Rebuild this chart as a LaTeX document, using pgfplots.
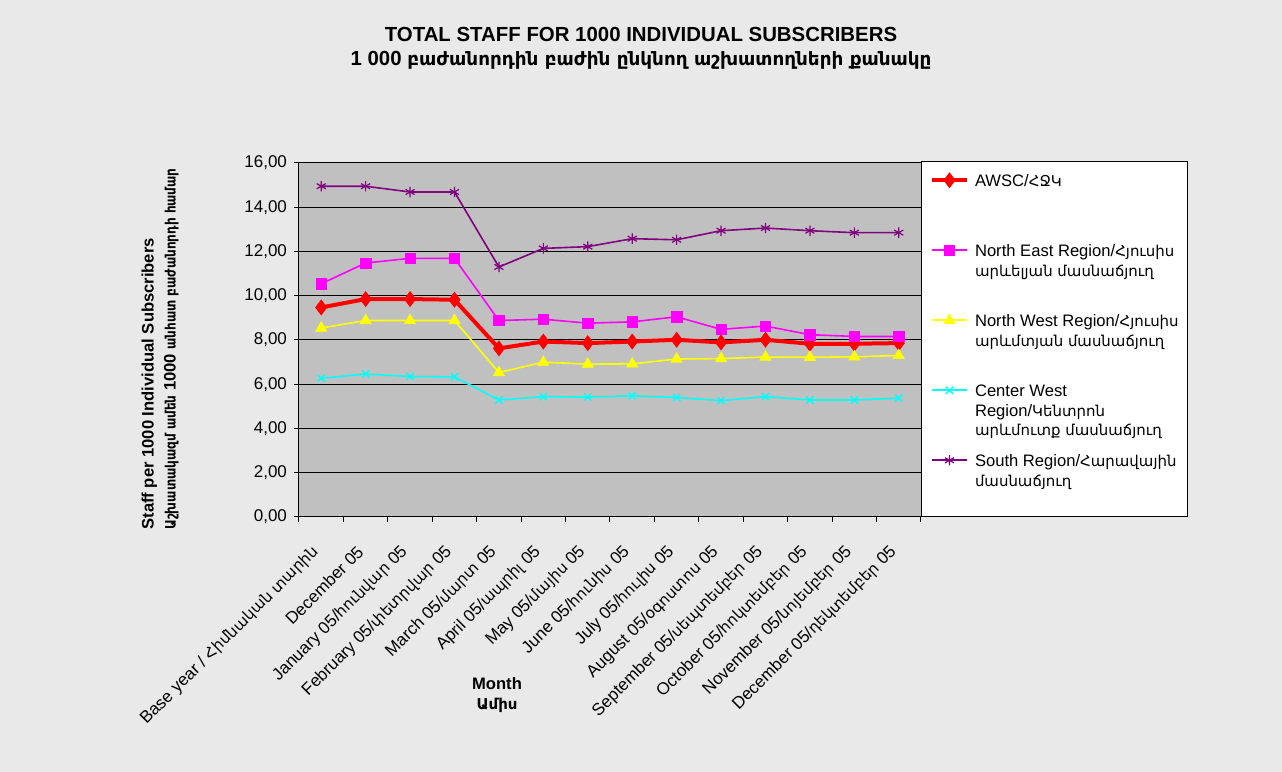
\documentclass[border=0pt]{standalone}
\usepackage{pgfplots}
\pgfplotsset{compat=1.18}
\usepackage{fontspec}
\setmainfont{Liberation Sans}
\newfontfamily\armfont{DejaVu Sans}[Scale=0.9]
\newfontfamily\armsfont{DejaVu Sans}[Scale=0.86, FakeStretch=0.84]
\newcommand\A[1]{{\armfont #1}}
\newcommand\As[1]{{\armsfont #1}}
\definecolor{bgc}{HTML}{E9E9E9}
\definecolor{plotbg}{HTML}{C0C0C0}
\definecolor{awsc}{HTML}{FF0000}
\definecolor{mag}{HTML}{FF00FF}
\definecolor{yel}{HTML}{FFFF00}
\definecolor{cya}{HTML}{00FFFF}
\definecolor{pur}{HTML}{800080}
\newcommand\LE[1]{\raisebox{-3.3pt}{\parbox[t][35pt][t]{125pt}{\raggedright\rule{0pt}{10pt}#1}}}
\begin{document}
\begin{tikzpicture}
\useasboundingbox (0,0) rectangle (641pt,386pt);
\fill[bgc] (0,0) rectangle (641pt,386pt);
% legend box
\draw[black, line width=0.5pt, fill=white] (460.5pt,127.5pt) rectangle (593.5pt,305pt);
\begin{axis}[
  at={(149.5pt,127.5pt)}, anchor=south west,
  scale only axis, width=311pt, height=177pt,
  xmin=-0.5, xmax=13.5, ymin=0, ymax=16,
  axis background/.style={fill=plotbg},
  axis x line*=bottom, axis y line*=left,
  axis line style={black, line width=0.5pt},
  ytick={0,2,...,16}, ymajorgrids,
  grid style={black, line width=0.5pt},
  tick align=outside, major tick length=2.5pt, minor tick length=2.5pt,
  tick style={black, line width=0.5pt},
  xtick={0,...,13}, major x tick style={draw=none},
  minor xtick={-0.5,0.5,...,13.5},
  xticklabels={Base year / \A{Հիմնական տարին},December 05,January 05/\A{հունվար} 05,February 05/\A{փետրվար} 05,March 05/\A{մարտ} 05,April 05/\A{ապրիլ} 05,May 05/\A{մայիս} 05,June 05/\A{հունիս} 05,July 05/\A{հուլիս} 05,August 05/\A{օգոստոս} 05,September 05/\A{սեպտեմբեր} 05,October 05/\A{հոկտեմբեր} 05,November 05/\A{նոյեմբեր} 05,December 05/\A{դեկտեմբեր} 05},
  tick label style={font=\fontsize{8.5}{10}\selectfont},
  xticklabel style={inner sep=0pt, xshift=-2.5pt, yshift=-13.5pt, rotate=45, anchor=east},
  yticklabel style={/pgf/number format/fixed, /pgf/number format/fixed zerofill, /pgf/number format/precision=2, /pgf/number format/use comma, /pgf/number format/assume math mode=true},
  legend style={at={(1.0145,0.989)}, anchor=north west, draw=none, fill=none, inner sep=0pt, outer sep=0pt, row sep=0pt, column sep=3pt, font=\fontsize{8.3}{9.6}\selectfont, nodes={anchor=base west, inner sep=0pt}},
  legend image code/.code={\path[draw=none, fill=none] (0pt,6.7pt) -- (0pt,-28.3pt); \draw[mark repeat=2,mark phase=2] plot coordinates {(0pt,0pt) (8.75pt,0pt) (17.5pt,0pt)};},
]
\addplot[color=awsc, line width=2pt, mark=diamond*, mark size=3.6pt, mark options={solid, line width=0.5pt}] coordinates {
(0,9.47) (1,9.85) (2,9.85) (3,9.82) (4,7.62) (5,7.93) (6,7.86) (7,7.93) (8,8.01) (9,7.89) (10,8.01) (11,7.83) (12,7.83) (13,7.86)};
\addlegendentry{\LE{AWSC/\A{ՀՋԿ}}}
\addplot[color=mag, line width=0.8pt, mark=square*, mark size=2.6pt, mark options={solid, line width=0.3pt}] coordinates {
(0,10.54) (1,11.48) (2,11.69) (3,11.69) (4,8.88) (5,8.94) (6,8.76) (7,8.82) (8,9.05) (9,8.48) (10,8.63) (11,8.24) (12,8.16) (13,8.16)};
\addlegendentry{\LE{North East Region/\A{Հյուսիս}\\\A{արևելյան մասնաճյուղ}}}
\addplot[color=yel, line width=0.8pt, mark=triangle*, mark size=3.2pt, mark options={solid, line width=0.3pt}] coordinates {
(0,8.54) (1,8.88) (2,8.88) (3,8.88) (4,6.53) (5,7.00) (6,6.91) (7,6.92) (8,7.14) (9,7.16) (10,7.23) (11,7.22) (12,7.24) (13,7.30)};
\addlegendentry{\LE{North West Region/\A{Հյուսիս}\\\A{արևմտյան մասնաճյուղ}}}
\addplot[color=cya, line width=0.8pt, mark=x, mark size=2.6pt, mark options={solid, line width=0.7pt}] coordinates {
(0,6.27) (1,6.46) (2,6.35) (3,6.33) (4,5.29) (5,5.44) (6,5.42) (7,5.48) (8,5.40) (9,5.26) (10,5.44) (11,5.29) (12,5.29) (13,5.37)};
\addlegendentry{\LE{Center West\\Region/\A{Կենտրոն}\\\A{արևմուտք մասնաճյուղ}}}
\addplot[color=pur, line width=0.8pt, mark=asterisk, mark size=2.6pt, mark options={solid, line width=0.6pt}] coordinates {
(0,14.95) (1,14.95) (2,14.69) (3,14.69) (4,11.30) (5,12.14) (6,12.22) (7,12.58) (8,12.53) (9,12.94) (10,13.06) (11,12.94) (12,12.85) (13,12.85)};
\addlegendentry{\LE{South Region/\A{Հարավային}\\\A{մասնաճյուղ}}}
\end{axis}
% title
\node[align=center, font=\bfseries\fontsize{10.2}{12}\selectfont] at (320.5pt,362pt) {TOTAL STAFF FOR 1000 INDIVIDUAL SUBSCRIBERS\\1 000 \A{բաժանորդին բաժին ընկնող աշխատողների քանակը}};
% y label
\node[rotate=90, align=left, anchor=south west, inner sep=0pt, font=\bfseries\fontsize{8.3}{11}\selectfont] at (89.5pt,121pt) {Staff per 1000 Individual Subscribers\\\As{Աշխատակազմ ամեն} 1000 \As{անհատ բաժանորդի համար}};
% x label
\node[align=center, font=\bfseries\fontsize{8.3}{10}\selectfont] at (248.5pt,38.5pt) {Month\\\A{Ամիս}};
\end{tikzpicture}
\end{document}
